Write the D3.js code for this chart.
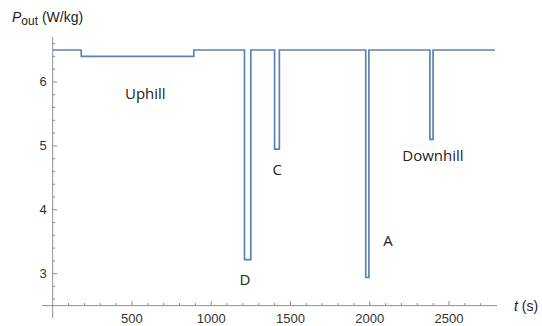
<!DOCTYPE html>
<html>
<head>
<meta charset="utf-8">
<script src="https://cdn.jsdelivr.net/npm/d3@7"></script>
<style>
  body { margin: 0; background: #fff; }
  text { font-family: "Liberation Sans", Arial, sans-serif; }
  .note { font-family: "Open Sans", "Noto Sans", sans-serif; }
</style>
</head>
<body>
<svg id="chart" width="542" height="326"></svg>
<script>
// step profile of output power
var times  = [0, 180, 890, 1210, 1250, 1400, 1430, 1975, 1995, 2380, 2400, 2790];
var power  = [6.5, 6.4, 6.5, 3.22, 6.5, 4.95, 6.5, 2.94, 6.5, 5.1, 6.5, 6.5];
var xMajor = [500, 1000, 1500, 2000, 2500];
var yMajor = [3, 4, 5, 6];
var notes  = [
  {t: 456,  p: 5.74, text: "Uphill"},
  {t: 1178, p: 2.82, text: "D"},
  {t: 1386, p: 4.55, text: "C"},
  {t: 2086, p: 3.44, text: "A"},
  {t: 2206, p: 4.77, text: "Downhill"}
];

var svg = d3.select("#chart");
var x = d3.scaleLinear().domain([0, 2800]).range([52.7, 496.5]);
var y = d3.scaleLinear().domain([2.5, 6.5]).range([305.6, 50]);

var axisCol = "#8a8f99";
var g = svg.append("g");

// axis lines
g.append("line").attr("x1", 42).attr("x2", 497).attr("y1", y(2.5)).attr("y2", y(2.5))
  .attr("stroke", axisCol).attr("stroke-width", 1);
g.append("line").attr("x1", x(0)).attr("x2", x(0)).attr("y1", 37).attr("y2", 318)
  .attr("stroke", axisCol).attr("stroke-width", 1);

// minor ticks
var xMinor = d3.range(100, 2800, 100).filter(function(d) { return d % 500 != 0; });
var yMinor = d3.range(26, 68, 2).map(function(d) { return d / 10; }).filter(function(d) { return d % 1 != 0; });

g.selectAll(".xminor").data(xMinor).enter().append("line")
  .attr("x1", function(d) { return x(d); }).attr("x2", function(d) { return x(d); })
  .attr("y1", y(2.5)).attr("y2", y(2.5) - 2.5)
  .attr("stroke", axisCol);
g.selectAll(".xmajor").data(xMajor).enter().append("line")
  .attr("x1", function(d) { return x(d); }).attr("x2", function(d) { return x(d); })
  .attr("y1", y(2.5)).attr("y2", y(2.5) - 4.5)
  .attr("stroke", axisCol);
g.selectAll(".yminor").data(yMinor).enter().append("line")
  .attr("x1", x(0)).attr("x2", x(0) + 2.5)
  .attr("y1", function(d) { return y(d); }).attr("y2", function(d) { return y(d); })
  .attr("stroke", axisCol);
g.selectAll(".ymajor").data(yMajor).enter().append("line")
  .attr("x1", x(0)).attr("x2", x(0) + 4.5)
  .attr("y1", function(d) { return y(d); }).attr("y2", function(d) { return y(d); })
  .attr("stroke", axisCol);

// tick labels
g.selectAll(".xlab").data(xMajor).enter().append("text")
  .attr("x", function(d) { return x(d); }).attr("y", y(2.5) + 17)
  .attr("text-anchor", "middle").attr("font-size", 13).attr("fill", "#333")
  .text(function(d) { return d; });
g.selectAll(".ylab").data(yMajor).enter().append("text")
  .attr("x", x(0) - 6).attr("y", function(d) { return y(d) + 4.5; })
  .attr("text-anchor", "end").attr("font-size", 13).attr("fill", "#333")
  .text(function(d) { return d; });

// the profile
var line = d3.line()
  .x(function(d, i) { return x(times[i]); })
  .y(function(d) { return y(d); })
  .curve(d3.curveStepAfter);
svg.append("path").datum(power)
  .attr("d", line)
  .attr("fill", "none")
  .attr("stroke", "#5e81b5")
  .attr("stroke-width", 1.7);

// annotations
svg.selectAll(".note").data(notes).enter().append("text")
  .attr("class", "note")
  .attr("x", function(d) { return x(d.t); })
  .attr("y", function(d) { return y(d.p); })
  .attr("font-size", 15).attr("fill", "#222")
  .text(function(d) { return d.text; });

// axis titles
var yt = svg.append("text").attr("x", 12).attr("y", 22).attr("font-size", 14).attr("fill", "#222");
yt.append("tspan").attr("font-style", "italic").text("P");
yt.append("tspan").attr("font-size", 12).attr("dy", 3).text("out");
yt.append("tspan").attr("dy", -3).text(" (W/kg)");

var xt = svg.append("text").attr("x", 514).attr("y", 311).attr("font-size", 14).attr("fill", "#222");
xt.append("tspan").attr("font-style", "italic").text("t");
xt.append("tspan").text(" (s)");
</script>
</body>
</html>
